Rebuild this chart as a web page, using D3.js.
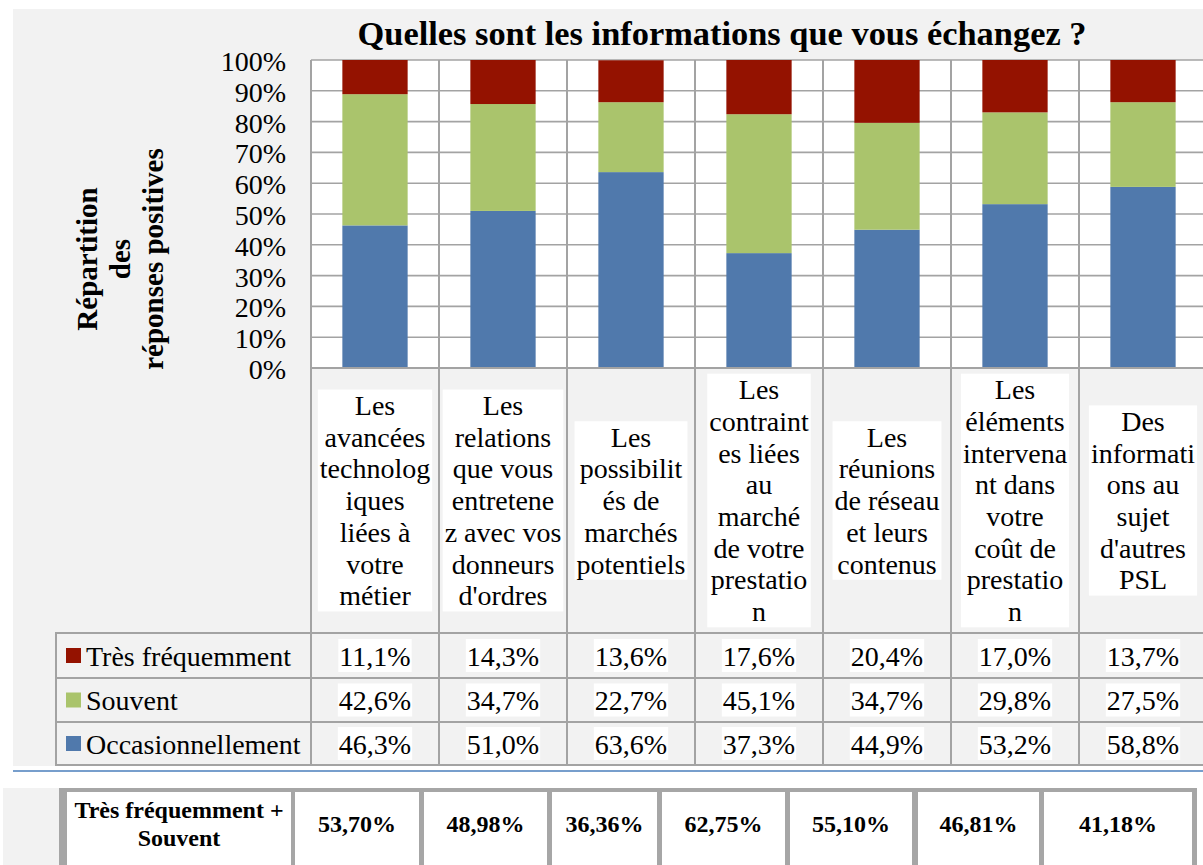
<!DOCTYPE html>
<html>
<head>
<meta charset="utf-8">
<script src="https://cdn.jsdelivr.net/npm/d3@7"></script>
<style>
  body { margin: 0; background: #ffffff; }
  svg { display: block; }
</style>
</head>
<body>
<svg id="chart" width="1203" height="865"></svg>
<script>
// ---- data ----
const categories = [
  "Les avancées technologiques liées à votre métier",
  "Les relations que vous entretenez avec vos donneurs d'ordres",
  "Les possibilités de marchés potentiels",
  "Les contraintes liées au marché de votre prestation",
  "Les réunions de réseau et leurs contenus",
  "Les éléments intervenant dans votre coût de prestation",
  "Des informations au sujet d'autres PSL"
];
// category labels as they wrap in the data-table header
const categoryLines = [
  ["Les", "avancées", "technolog", "iques", "liées à", "votre", "métier"],
  ["Les", "relations", "que vous", "entretene", "z avec vos", "donneurs", "d'ordres"],
  ["Les", "possibilit", "és de", "marchés", "potentiels"],
  ["Les", "contraint", "es liées", "au", "marché", "de votre", "prestatio", "n"],
  ["Les", "réunions", "de réseau", "et leurs", "contenus"],
  ["Les", "éléments", "intervena", "nt dans", "votre", "coût de", "prestatio", "n"],
  ["Des", "informati", "ons au", "sujet", "d'autres", "PSL"]
];
const seriesNames = ["Très fréquemment", "Souvent", "Occasionnellement"];
const tresFrequemment   = [11.1, 14.3, 13.6, 17.6, 20.4, 17.0, 13.7];
const souvent           = [42.6, 34.7, 22.7, 45.1, 34.7, 29.8, 27.5];
const occasionnellement = [46.3, 51.0, 63.6, 37.3, 44.9, 53.2, 58.8];
const yTicks = [0, 10, 20, 30, 40, 50, 60, 70, 80, 90, 100];
const chartTitle = "Quelles sont les informations que vous échangez ?";
const yTitleLines = ["Répartition", "des", "réponses positives"];
const cumulTitleLines = ["Très fréquemment +", "Souvent"];
const cumulValues = [53.70, 48.98, 36.36, 62.75, 55.10, 46.81, 41.18];

// ---- styles ----
const colors = { tres: "#941200", souvent: "#aac46c", occ: "#5079ac" };
const seriesKeys = ["tres", "souvent", "occ"];
const FONT = "'Liberation Serif', 'Times New Roman', serif";
const gridColor = "#a3a3a3";

const svg = d3.select("#chart");

function txt(parent, x, y, s, o = {}) {
  return parent.append("text")
    .attr("x", x).attr("y", y)
    .attr("font-family", FONT)
    .attr("font-size", o.size || 28)
    .attr("font-weight", o.weight || "normal")
    .attr("text-anchor", o.anchor || "start")
    .attr("fill", "#000")
    .text(s);
}

// ---- layout ----
const plot = { left: 311, right: 1207, top: 60, bottom: 368 };
const tableBottom = 765;
const headerBottom = 633;
const rowEdges = [633, 678, 722, 765];
const legendLeft = 56;

// chart background panel
svg.append("rect").attr("x", 13).attr("y", 9).attr("width", 1203 - 13).attr("height", 766 - 9)
  .attr("fill", "#f2f2f2");

// scales
const colScale = d3.scaleBand().domain(categories).range([plot.left, plot.right]);
const barScale = d3.scaleBand().domain(categories).range([plot.left, plot.right])
  .paddingInner(0.49).paddingOuter(0.245);
const y = d3.scaleLinear().domain([0, 100]).range([plot.bottom, plot.top]);

// plot area
svg.append("rect").attr("x", plot.left).attr("y", plot.top)
  .attr("width", plot.right - plot.left).attr("height", plot.bottom - plot.top)
  .attr("fill", "#ffffff");

// gridlines
svg.append("g").selectAll("line").data(yTicks).join("line")
  .attr("x1", plot.left).attr("x2", plot.right)
  .attr("y1", d => y(d)).attr("y2", d => y(d))
  .attr("stroke", gridColor).attr("stroke-width", 1.6);

// stacked bars
const rows = categories.map((c, i) => ({
  cat: c, occ: occasionnellement[i], souvent: souvent[i], tres: tresFrequemment[i]
}));
const stack = d3.stack().keys(["occ", "souvent", "tres"]);
const layers = stack(rows);
svg.append("g").selectAll("g").data(layers).join("g")
  .attr("fill", d => colors[d.key])
  .selectAll("rect").data(d => d).join("rect")
  .attr("x", d => barScale(d.data.cat))
  .attr("width", barScale.bandwidth())
  .attr("y", d => y(d[1]))
  .attr("height", d => y(d[0]) - y(d[1]));

// y axis tick labels
const yAxisG = svg.append("g");
yTicks.forEach(t => {
  txt(yAxisG, 286, y(t) + 11, t + "%", { size: 28, anchor: "end" });
});

// y axis title
const yTitleG = svg.append("g");
const yTitleX = [97, 130, 163];
yTitleLines.forEach((l, i) => {
  yTitleG.append("text")
    .attr("transform", `translate(${yTitleX[i]},259) rotate(-90)`)
    .attr("font-family", FONT).attr("font-size", 29).attr("font-weight", "bold")
    .attr("text-anchor", "middle").text(l);
});

// title
txt(svg, 722, 45, chartTitle, { size: 34.4, weight: "bold", anchor: "middle" });

// ---- data table ----
const tableG = svg.append("g");
const colEdges = categories.map(c => colScale(c)).concat([plot.right]);
// vertical lines
colEdges.forEach(x => {
  tableG.append("line").attr("x1", x).attr("x2", x).attr("y1", plot.top).attr("y2", tableBottom)
    .attr("stroke", gridColor).attr("stroke-width", 2);
});
tableG.append("line").attr("x1", legendLeft).attr("x2", legendLeft)
  .attr("y1", headerBottom).attr("y2", tableBottom)
  .attr("stroke", gridColor).attr("stroke-width", 2);
// horizontal lines
tableG.append("line").attr("x1", plot.left).attr("x2", plot.right)
  .attr("y1", plot.bottom).attr("y2", plot.bottom)
  .attr("stroke", gridColor).attr("stroke-width", 2);
rowEdges.forEach(yy => {
  tableG.append("line").attr("x1", legendLeft - 1).attr("x2", plot.right)
    .attr("y1", yy).attr("y2", yy)
    .attr("stroke", gridColor).attr("stroke-width", 2);
});

// header labels with white backing boxes
const lineH = 31.7;
const headerMid = (plot.bottom + headerBottom) / 2;
categories.forEach((c, i) => {
  const cx = colScale(c) + colScale.bandwidth() / 2;
  const lines = categoryLines[i];
  const top = headerMid - lines.length * lineH / 2;
  const g = tableG.append("g");
  const box = g.append("rect").attr("fill", "#ffffff");
  let maxW = 0;
  lines.forEach((l, k) => {
    const t = txt(g, cx, top + k * lineH + 25.5, l, { size: 28, anchor: "middle" });
    maxW = Math.max(maxW, t.node().getComputedTextLength());
  });
  box.attr("x", cx - maxW / 2 - 2).attr("y", top).attr("width", maxW + 4)
    .attr("height", lines.length * lineH);
});

// series rows
const fmt1 = v => d3.format(".1f")(v).replace(".", ",") + "%";
const seriesValues = { tres: tresFrequemment, souvent: souvent, occ: occasionnellement };
seriesKeys.forEach((k, r) => {
  const cy = (rowEdges[r] + rowEdges[r + 1]) / 2;
  // legend entry
  tableG.append("rect").attr("x", 66).attr("y", cy - 7.5).attr("width", 15).attr("height", 15)
    .attr("fill", colors[k]);
  txt(tableG, 86, cy + 10, seriesNames[r], { size: 28 });
  // values
  categories.forEach((c, i) => {
    const cx = colScale(c) + colScale.bandwidth() / 2;
    const g = tableG.append("g");
    const box = g.append("rect").attr("fill", "#ffffff");
    const t = txt(g, cx, cy + 10, fmt1(seriesValues[k][i]), { size: 28, anchor: "middle" });
    const w = t.node().getComputedTextLength();
    box.attr("x", cx - w / 2 - 1).attr("y", cy - 16.5).attr("width", w + 2).attr("height", 33);
  });
});

// separator rule
svg.append("line").attr("x1", 13).attr("x2", 1203).attr("y1", 771).attr("y2", 771)
  .attr("stroke", "#4a7ebb").attr("stroke-width", 1.5);

// ---- cumulative table ----
const cumulG = svg.append("g");
cumulG.append("rect").attr("x", 3).attr("y", 788).attr("width", 56).attr("height", 77).attr("fill", "#f2f2f2");
cumulG.append("rect").attr("x", 59).attr("y", 788).attr("width", 1197 - 59).attr("height", 80).attr("fill", "#a6a6a6");
const cellEdges = [[67, 291], [295, 419], [424, 547], [552, 657], [662, 785], [790, 912], [918, 1039], [1044, 1192]];
cellEdges.forEach(([a, b]) => {
  cumulG.append("rect").attr("x", a).attr("y", 792).attr("width", b - a).attr("height", 80).attr("fill", "#ffffff");
});
const fmt2 = v => d3.format(".2f")(v).replace(".", ",") + "%";
const c0 = (cellEdges[0][0] + cellEdges[0][1]) / 2;
txt(cumulG, c0, 818, cumulTitleLines[0], { size: 24, weight: "bold", anchor: "middle" });
txt(cumulG, c0, 846, cumulTitleLines[1], { size: 24, weight: "bold", anchor: "middle" });
cumulValues.forEach((v, i) => {
  const [a, b] = cellEdges[i + 1];
  txt(cumulG, (a + b) / 2, 832, fmt2(v), { size: 24, weight: "bold", anchor: "middle" });
});
</script>
</body>
</html>
